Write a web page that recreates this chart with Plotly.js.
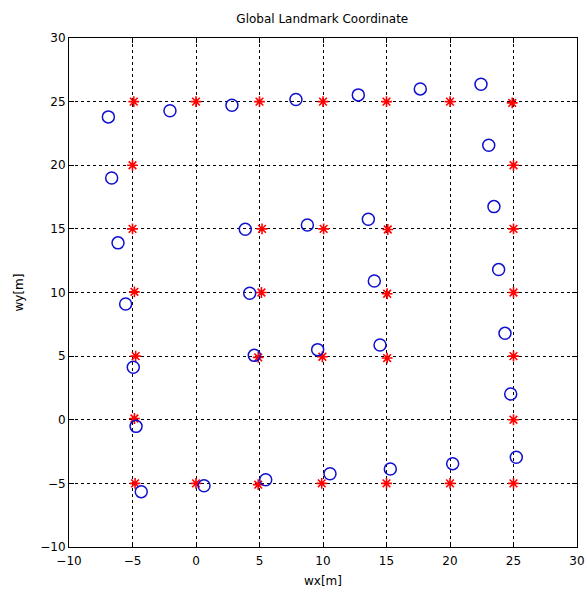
<!DOCTYPE html>
<html>
<head>
<meta charset="utf-8">
<script src="https://cdn.plot.ly/plotly-3.0.1.min.js"></script>
<style>
  html, body { margin: 0; padding: 0; background: #ffffff; }
  #chart { width: 586px; height: 592px; }
</style>
</head>
<body>
<div id="chart"></div>
<script>
// True landmark positions (red asterisks)
const landmarkX = [-4.9, 0, 5, 10, 15, 20, 24.9,
                   25, 25, 25, 25, 25, 25,
                   20, 15, 9.9, 4.9, 0, -4.8,
                   -4.85, -4.75, -4.85, -5, -5,
                   5.2, 10.05, 15.1, 5.15, 15.05, 4.9, 9.95, 15.05];
const landmarkY = [25, 25, 25, 25, 25, 25, 24.9,
                   20, 15, 10, 5, 0, -5,
                   -5, -5, -5, -5.1, -5, -5,
                   0.1, 5.0, 10.05, 15, 20,
                   15, 15, 14.95, 10.0, 9.9, 4.9, 4.95, 4.85];

// Estimated landmark positions (blue circles)
const estX = [-6.9, -2.05, 2.83, 7.87, 12.78, 17.66, 22.44,
              23.05, 23.46, 23.83, 24.33, 24.78, 25.22,
              20.21, 15.3, 10.55, 5.49, 0.63, -4.31,
              -4.72, -4.94, -5.54, -6.14, -6.64,
              3.88, 8.77, 13.57, 4.23, 14.04, 4.59, 9.58, 14.49];
const estY = [23.8, 24.28, 24.72, 25.17, 25.53, 26.0, 26.37,
              21.57, 16.75, 11.8, 6.79, 2.03, -2.95,
              -3.45, -3.87, -4.24, -4.71, -5.18, -5.65,
              -0.52, 4.12, 9.1, 13.9, 19.0,
              14.97, 15.31, 15.75, 9.94, 10.91, 5.06, 5.51, 5.88];

const tickVals = [-10, -5, 0, 5, 10, 15, 20, 25, 30];

const traces = [
  {
    x: landmarkX, y: landmarkY, type: 'scatter', mode: 'markers',
    marker: { symbol: 'asterisk-open', size: 9, color: '#ff0000',
              line: { color: '#ff0000', width: 1.6 } },
    hoverinfo: 'x+y'
  },
  {
    x: estX, y: estY, type: 'scatter', mode: 'markers',
    marker: { symbol: 'circle-open', size: 12, color: '#1010d0',
              line: { color: '#1010d0', width: 1.5 } },
    hoverinfo: 'x+y'
  }
];

const axisCommon = {
  tickvals: tickVals,
  ticks: 'inside', ticklen: 5, tickcolor: '#000', tickwidth: 1,
  showline: true, linecolor: '#000', linewidth: 1, mirror: 'ticks',
  showgrid: true, gridcolor: '#000', griddash: '3px,3px', gridwidth: 1,
  zeroline: false,
  tickfont: { family: 'DejaVu Sans, sans-serif', size: 12, color: '#000' }
};

const layout = {
  width: 586, height: 592,
  margin: { l: 69, r: 9, t: 38, b: 45 },
  paper_bgcolor: '#ffffff', plot_bgcolor: '#ffffff',
  showlegend: false,
  title: { text: 'Global Landmark Coordinate', x: 0.55, xanchor: 'center',
           y: 0.975, yanchor: 'top',
           font: { family: 'DejaVu Sans, sans-serif', size: 12, color: '#000' } },
  xaxis: Object.assign({}, axisCommon, {
    range: [-10, 30],
    ticklabelstandoff: 3,
    title: { text: 'wx[m]', standoff: 9,
             font: { family: 'DejaVu Sans, sans-serif', size: 12, color: '#000' } }
  }),
  yaxis: Object.assign({}, axisCommon, {
    range: [-10, 30],
    title: { text: 'wy[m]', standoff: 14,
             font: { family: 'DejaVu Sans, sans-serif', size: 12, color: '#000' } }
  })
};

Plotly.newPlot('chart', traces, layout, { displayModeBar: false, staticPlot: true });
</script>
</body>
</html>
